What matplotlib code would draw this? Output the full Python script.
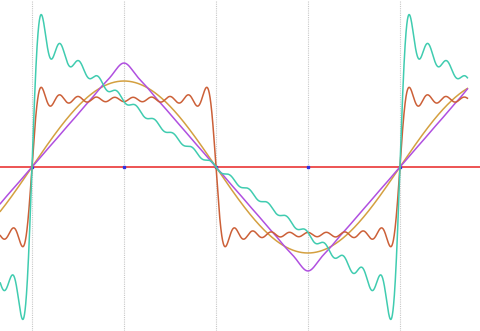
import numpy as np
import matplotlib
matplotlib.use("Agg")
import matplotlib.pyplot as plt

# Fourier coefficients (sine terms) for harmonics 1..19
harmonics = [1, 2, 3, 4, 5, 6, 7, 8, 9, 10, 11, 12, 13, 14, 15, 16, 17, 18, 19]
sine_coef = [1]
triangle_coef = [1, 0, -1/9, 0, 1/25, 0, -1/49, 0, 1/81, 0,
                 -1/121, 0, 1/169, 0, -1/225, 0, 1/289, 0, -1/361]
square_coef = [1, 0, 1/3, 0, 1/5, 0, 1/7, 0, 1/9, 0,
               1/11, 0, 1/13, 0, 1/15, 0, 1/17, 0, 1/19]
sawtooth_coef = [1, 1/2, 1/3, 1/4, 1/5, 1/6, 1/7, 1/8, 1/9, 1/10,
                 1/11, 1/12, 1/13, 1/14, 1/15, 1/16, 1/17, 1/18, 1/19]

# angle range in degrees, gridlines every quarter period
x_start, x_end = -31, 426
grid_deg = [0, 90, 180, 270, 360]

x_deg = np.linspace(x_start, x_end, 3000)
x_rad = np.radians(x_deg)


def fourier(coefs):
    y = np.zeros_like(x_rad)
    for n, c in zip(harmonics, coefs):
        y += c * np.sin(n * x_rad)
    return y


fig = plt.figure(figsize=(4.81, 3.31), dpi=100)
ax = fig.add_axes([0, 0, 1, 1])
ax.set_axis_off()

for g in grid_deg:
    ax.axvline(g, color="#c8c8c8", lw=0.8, ls=(0, (1, 1)), zorder=1)
ax.axhline(0, color="#e82424", lw=1.1, zorder=2)
ax.plot(grid_deg, [0] * len(grid_deg), ls="none", marker="s", ms=2,
        color="#3030e0", zorder=2)

ax.plot(x_deg, fourier(sine_coef), color="#d4a040", lw=1.1, zorder=3)
ax.plot(x_deg, fourier(triangle_coef), color="#b050e0", lw=1.1, zorder=3)
ax.plot(x_deg, fourier(square_coef), color="#cc6038", lw=1.1, zorder=4)
ax.plot(x_deg, fourier(sawtooth_coef), color="#40ccb0", lw=1.1, zorder=5)

ax.set_xlim(-31.3, 439.3)
ax.set_ylim(-1.907, 1.942)

fig.savefig("out.png", dpi=100)
